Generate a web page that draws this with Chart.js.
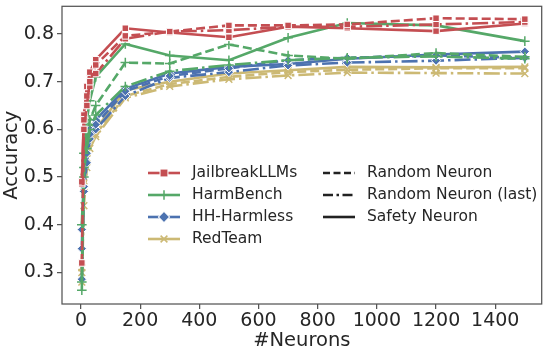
<!DOCTYPE html>
<html>
<head>
<meta charset="utf-8">
<script src="https://cdn.jsdelivr.net/npm/chart.js@4.4.1/dist/chart.umd.min.js"></script>
<style>
  html, body { margin: 0; padding: 0; background: #fff; }
  #wrap { width: 548px; height: 353px; position: relative; }
</style>
</head>
<body>
<div id="wrap"><canvas id="myChart"></canvas></div>
<script>
const neurons = [3, 10, 20, 30, 50, 150, 300, 500, 700, 900, 1200, 1500];
const xTicks = [0, 200, 400, 600, 800, 1000, 1200, 1400];
const yTicks = [0.3, 0.4, 0.5, 0.6, 0.7, 0.8];

const datasetNames = ['JailbreakLLMs', 'HarmBench', 'HH-Harmless', 'RedTeam'];
const methodNames = ['Random Neuron', 'Random Neuron (last)', 'Safety Neuron'];

// [random, random last, safety] per dataset
const jailbreakRandom = [0.32, 0.60, 0.65, 0.70, 0.735, 0.796, 0.805, 0.818, 0.818, 0.82, 0.833, 0.831];
const jailbreakLast = [0.49, 0.62, 0.67, 0.69, 0.717, 0.79, 0.805, 0.808, 0.815, 0.815, 0.82, 0.825];
const jailbreakSafety = [0.486, 0.63, 0.69, 0.72, 0.746, 0.812, 0.803, 0.793, 0.815, 0.812, 0.806, 0.822];

const harmRandom = [0.28, 0.50, 0.58, 0.62, 0.65, 0.74, 0.738, 0.778, 0.755, 0.748, 0.76, 0.752];
const harmLast = [0.40, 0.52, 0.56, 0.60, 0.63, 0.69, 0.722, 0.735, 0.745, 0.75, 0.753, 0.748];
const harmSafety = [0.263, 0.55, 0.62, 0.66, 0.71, 0.779, 0.755, 0.745, 0.792, 0.823, 0.818, 0.785];

const hhRandom = [0.39, 0.48, 0.55, 0.59, 0.61, 0.68, 0.712, 0.728, 0.745, 0.75, 0.755, 0.75];
const hhLast = [0.286, 0.47, 0.53, 0.58, 0.60, 0.67, 0.708, 0.72, 0.734, 0.74, 0.744, 0.75];
const hhSafety = [0.35, 0.52, 0.57, 0.60, 0.62, 0.685, 0.717, 0.731, 0.737, 0.748, 0.757, 0.763];

const redRandom = [0.30, 0.48, 0.54, 0.58, 0.59, 0.67, 0.695, 0.71, 0.72, 0.725, 0.728, 0.728];
const redLast = [0.28, 0.44, 0.52, 0.56, 0.585, 0.666, 0.69, 0.705, 0.713, 0.719, 0.718, 0.717];
const redSafety = [0.31, 0.50, 0.55, 0.59, 0.60, 0.682, 0.70, 0.717, 0.724, 0.731, 0.73, 0.731];

const allValues = [
  [jailbreakRandom, jailbreakLast, jailbreakSafety],
  [harmRandom, harmLast, harmSafety],
  [hhRandom, hhLast, hhSafety],
  [redRandom, redLast, redSafety]
];

const colors = ['#C44E52', '#55A868', '#4C72B0', '#CCB974'];
const markers = ['rect', 'cross', 'rectRot', 'crossRot'];
const dashes = [[9, 4], [16, 4, 2.5, 4], []];

const isFilled = (m) => m === 'rect' || m === 'rectRot';

const datasets = [];
allValues.forEach((group, i) => {
  group.forEach((vals, j) => {
    const filled = isFilled(markers[i]);
    datasets.push({
      label: datasetNames[i] + ' / ' + methodNames[j],
      data: vals.map((v, k) => ({ x: neurons[k], y: v })),
      borderColor: colors[i],
      borderWidth: 2.6,
      borderDash: dashes[j],
      pointStyle: markers[i],
      pointRadius: filled ? 4.6 : 4.8,
      pointBackgroundColor: colors[i],
      pointBorderColor: filled ? '#fff' : colors[i],
      pointBorderWidth: filled ? 1 : 1.5,
      fill: false,
      tension: 0
    });
  });
});

function drawMarker(ctx, style, x, y, r) {
  ctx.save();
  ctx.translate(x, y);
  if (style === 'rect' || style === 'rectRot') {
    if (style === 'rectRot') ctx.rotate(Math.PI / 4);
    const s = r * 1.5;
    ctx.beginPath();
    ctx.rect(-s / 2 - 0.5, -s / 2 - 0.5, s + 1, s + 1);
    ctx.fill();
    ctx.stroke();
  } else {
    if (style === 'crossRot') ctx.rotate(Math.PI / 4);
    ctx.beginPath();
    ctx.moveTo(-r, 0); ctx.lineTo(r, 0);
    ctx.moveTo(0, -r); ctx.lineTo(0, r);
    ctx.stroke();
  }
  ctx.restore();
}

// matplotlib-like box and two-column legend
const boxAndLegend = {
  id: 'boxAndLegend',
  afterDraw(chart) {
    const ctx = chart.ctx;
    const a = chart.chartArea;
    ctx.save();
    ctx.strokeStyle = '#555';
    ctx.lineWidth = 1.25;
    ctx.strokeRect(a.left, a.top, a.right - a.left, a.bottom - a.top);

    ctx.font = '15.5px "DejaVu Sans"';
    ctx.textBaseline = 'middle';
    const rowY = [173, 195, 217, 239];

    datasetNames.forEach((name, i) => {
      const y = rowY[i];
      const filled = isFilled(markers[i]);
      ctx.setLineDash([]);
      ctx.strokeStyle = colors[i];
      ctx.lineWidth = 2.6;
      ctx.beginPath();
      ctx.moveTo(148, y);
      ctx.lineTo(180, y);
      ctx.stroke();
      ctx.fillStyle = colors[i];
      ctx.strokeStyle = filled ? '#fff' : colors[i];
      ctx.lineWidth = filled ? 1 : 1.5;
      drawMarker(ctx, markers[i], 164, y, filled ? 4.6 : 4.8);
      ctx.fillStyle = '#262626';
      ctx.fillText(name, 192, y);
    });

    methodNames.forEach((name, j) => {
      const y = rowY[j];
      ctx.strokeStyle = '#222';
      ctx.lineWidth = 2.6;
      ctx.setLineDash(j === 0 ? [7, 3.5] : j === 1 ? [10, 3.5, 2.5, 3.5] : []);
      ctx.beginPath();
      ctx.moveTo(323, y);
      ctx.lineTo(355, y);
      ctx.stroke();
      ctx.setLineDash([]);
      ctx.fillStyle = '#262626';
      ctx.fillText(name, 367, y);
    });
    ctx.restore();
  }
};

new Chart(document.getElementById('myChart'), {
  type: 'line',
  data: { datasets },
  options: {
    responsive: true,
    maintainAspectRatio: false,
    animation: false,
    events: [],
    layout: { padding: { top: 2, right: 4, left: 0, bottom: 0 } },
    plugins: {
      legend: { display: false },
      tooltip: { enabled: false }
    },
    scales: {
      x: {
        type: 'linear',
        min: -64,
        max: 1557,
        afterBuildTicks: (axis) => { axis.ticks = xTicks.map(v => ({ value: v })); },
        afterFit: (axis) => {
          axis.height = 49;
          axis.paddingLeft = 0;
          axis.paddingRight = 0;
        },
        grid: { drawOnChartArea: false, tickLength: 5, tickColor: '#555', lineWidth: 1.25 },
        border: { display: false },
        ticks: { color: '#262626', font: { family: 'DejaVu Sans', size: 19 }, padding: 1, maxRotation: 0, callback: (v) => String(v) },
        title: { display: true, text: '#Neurons', color: '#262626', font: { family: 'DejaVu Sans', size: 19.5 }, padding: { top: 0, bottom: 0 } }
      },
      y: {
        min: 0.234,
        max: 0.858,
        afterBuildTicks: (axis) => { axis.ticks = yTicks.map(v => ({ value: v })); },
        afterFit: (axis) => {
          axis.width = 62;
          axis.paddingTop = 0;
          axis.paddingBottom = 0;
        },
        grid: { drawOnChartArea: false, tickLength: 5, tickColor: '#555', lineWidth: 1.25 },
        border: { display: false },
        ticks: { color: '#262626', font: { family: 'DejaVu Sans', size: 19 }, padding: 3, callback: (v) => v.toFixed(1) },
        title: { display: true, text: 'Accuracy', color: '#262626', font: { family: 'DejaVu Sans', size: 19.5 }, padding: { top: 0, bottom: 0 } }
      }
    }
  },
  plugins: [boxAndLegend]
});
</script>
</body>
</html>
